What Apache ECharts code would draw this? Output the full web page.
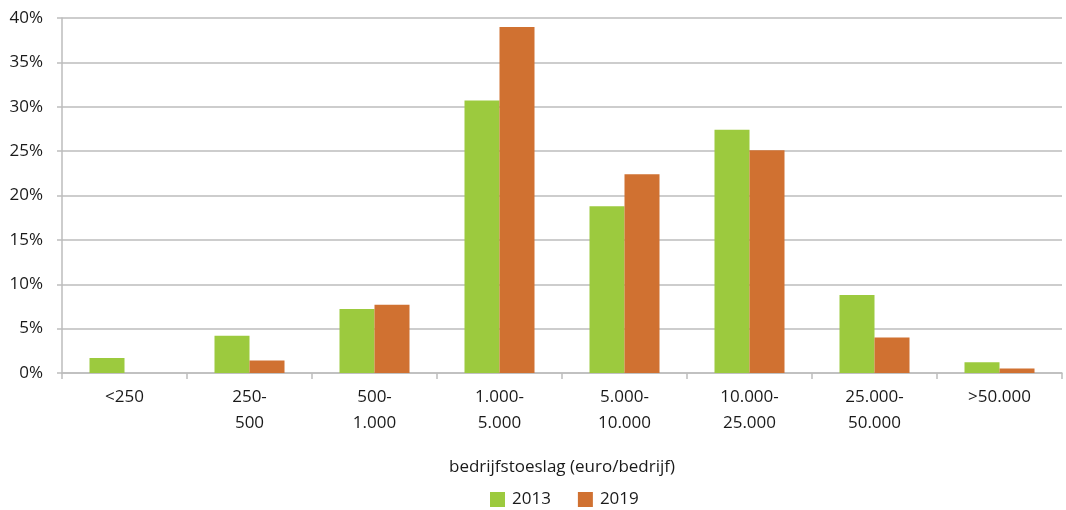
<!DOCTYPE html>
<html>
<head>
<meta charset="utf-8">
<script src="https://cdn.jsdelivr.net/npm/echarts@6/dist/echarts.min.js"></script>
<style>
  html, body { margin: 0; padding: 0; background: #fff; }
  #chart { width: 1066px; height: 510px; }
</style>
</head>
<body>
<div id="chart"></div>
<script>
// Bedrijfstoeslag classes (euro per bedrijf)
const categories = ['<250', '250-\n500', '500-\n1.000', '1.000-\n5.000', '5.000-\n10.000', '10.000-\n25.000', '25.000-\n50.000', '>50.000'];
// Share of bedrijven per class (%)
const values2013 = [1.7, 4.2, 7.2, 30.7, 18.8, 27.4, 8.8, 1.2];
const values2019 = [0.0, 1.4, 7.7, 39.0, 22.4, 25.1, 4.0, 0.5];
const seriesNames = ['2013', '2019'];
const axisTitle = 'bedrijfstoeslag (euro/bedrijf)';

const FONT = '"Open Sans", "Noto Sans", sans-serif';
const TEXT = '#1a1a1a';
const GRID = '#bdbdbd';
const FS = 17;

const chart = echarts.init(document.getElementById('chart'));
chart.setOption({
  animation: false,
  textStyle: { fontFamily: FONT },
  grid: { left: 62, right: 4, top: 18, bottom: 137 },
  legend: {
    data: seriesNames,
    top: 486,
    left: 485,
    itemWidth: 15,
    itemHeight: 15,
    itemGap: 27,
    icon: 'rect',
    textStyle: { fontFamily: FONT, fontSize: FS, color: TEXT, padding: [0, 0, 0, 2] }
  },
  xAxis: {
    type: 'category',
    data: categories,
    name: axisTitle,
    nameLocation: 'middle',
    nameGap: 86,
    nameTextStyle: { fontFamily: FONT, fontSize: FS, color: TEXT },
    axisLine: { lineStyle: { color: GRID, width: 1.5 } },
    axisTick: { show: true, length: 6, lineStyle: { color: GRID, width: 1.5 } },
    axisLabel: { fontFamily: FONT, fontSize: FS, color: TEXT, margin: 11, lineHeight: 26, interval: 0 }
  },
  yAxis: {
    type: 'value',
    min: 0,
    max: 40,
    interval: 5,
    axisLine: { show: true, lineStyle: { color: GRID, width: 1.5 } },
    axisTick: { show: true, length: 5, lineStyle: { color: GRID, width: 1.5 } },
    splitLine: { lineStyle: { color: GRID, width: 1.5 } },
    axisLabel: { fontFamily: FONT, fontSize: FS, color: TEXT, margin: 19, formatter: '{value}%' }
  },
  series: [
    {
      name: seriesNames[0],
      type: 'bar',
      data: values2013,
      barGap: '0%',
      barCategoryGap: '44%',
      itemStyle: { color: '#9cca3e' }
    },
    {
      name: seriesNames[1],
      type: 'bar',
      data: values2019,
      itemStyle: { color: '#d07131' }
    }
  ]
});
</script>
</body>
</html>
